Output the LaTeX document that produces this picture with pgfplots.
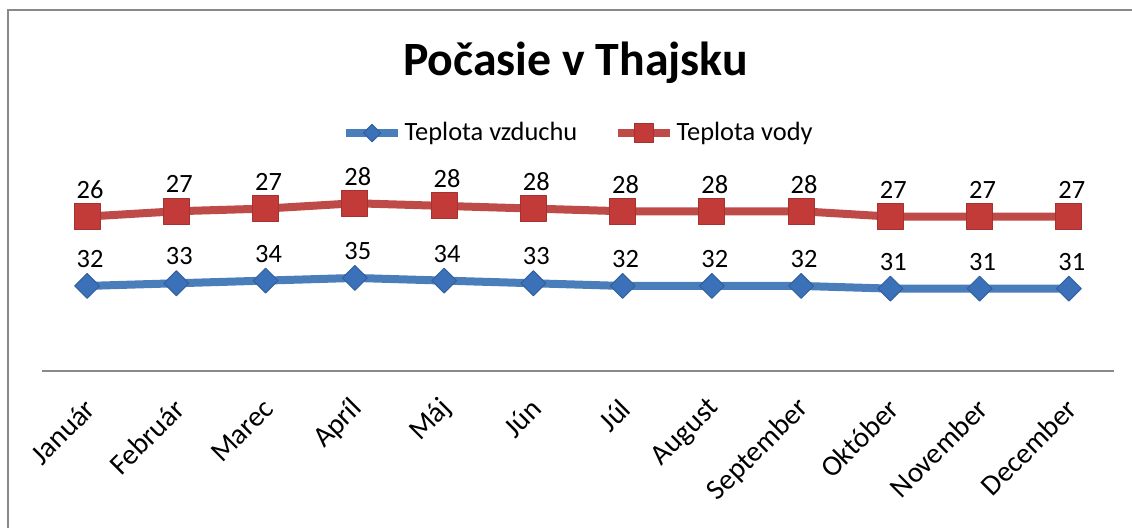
\documentclass[border=0pt]{standalone}
\usepackage{fontspec}
\setmainfont{Carlito}
\usepackage{pgfplots}
\usepackage{pgfplotstable}
\pgfplotsset{compat=1.18}

\definecolor{airline}{HTML}{4A7EBB}
\definecolor{airmark}{HTML}{3B71B9}
\definecolor{waterline}{HTML}{BE4B48}
\definecolor{watermark}{HTML}{C23B38}
\definecolor{framegray}{HTML}{898989}

% month, air temperature, water temperature
\pgfplotstableread{
x air water
0  32 26
1  33 27
2  34 27
3  35 28
4  34 28
5  33 28
6  32 28
7  32 28
8  32 28
9  31 27
10 31 27
11 31 27
}\temps

\begin{document}
\begin{tikzpicture}
\useasboundingbox (0,0) rectangle (566pt,264pt);
\draw[framegray, line width=1.1pt] (4pt,0) -- (4pt,259pt) -- (566pt,259pt);
\node[font=\fontsize{23.9}{28}\selectfont\bfseries, anchor=base] at (287.75pt,226pt) {Počasie v Thajsku};
\begin{axis}[
  at={(21.25pt,78.35pt)}, anchor=south west,
  scale only axis, width=535.5pt, height=93.35pt,
  xmin=-0.5, xmax=11.5, ymin=0, ymax=70,
  stack plots=y,
  axis x line*=bottom, axis y line=none,
  x axis line style={draw=framegray, line width=0.8pt},
  xtick={0,...,11},
  xticklabels={Január,Február,Marec,Apríl,Máj,Jún,Júl,August,September,Október,November,December},
  major tick length=0pt,
  xticklabel style={font=\fontsize{14.5}{17}\selectfont, xshift=4pt, rotate=45, anchor=east},
  xticklabel shift=14pt,
  /pgf/number format/assume math mode=true,
  nodes near coords, point meta=explicit,
  nodes near coords align={center},
  every node near coord/.append style={font=\fontsize{13.2}{15}\selectfont, text=black, yshift=13.5pt, xshift=1.5pt},
  legend columns=2,
  legend style={at={(0.501,1.276)}, anchor=center, draw=none, fill=none,
    font=\fontsize{13.2}{16}\selectfont,
    /tikz/every even column/.append style={column sep=17pt},
    nodes={inner sep=1.5pt}},
  legend image code/.code={%
    \draw[mark repeat=2, mark phase=2, #1, every mark/.append style={scale=0.7}]
      plot coordinates {(0cm,0cm) (0.45cm,0cm) (0.9cm,0cm)};},
]
\addplot[airline, line width=4pt, line join=round, mark=square*, mark size=4.4pt,
  mark options={rotate=45, fill=airmark, draw=airmark!85!black, line width=0.5pt}]
  table[x=x, y=air, meta=air] {\temps};
\addlegendentry{Teplota vzduchu}
\addplot[waterline, line width=4pt, line join=round, mark=square*, mark size=6.5pt,
  mark options={fill=watermark, draw=watermark!85!black, line width=0.5pt}]
  table[x=x, y=water, meta=water] {\temps};
\addlegendentry{Teplota vody}
\end{axis}
\end{tikzpicture}
\end{document}
